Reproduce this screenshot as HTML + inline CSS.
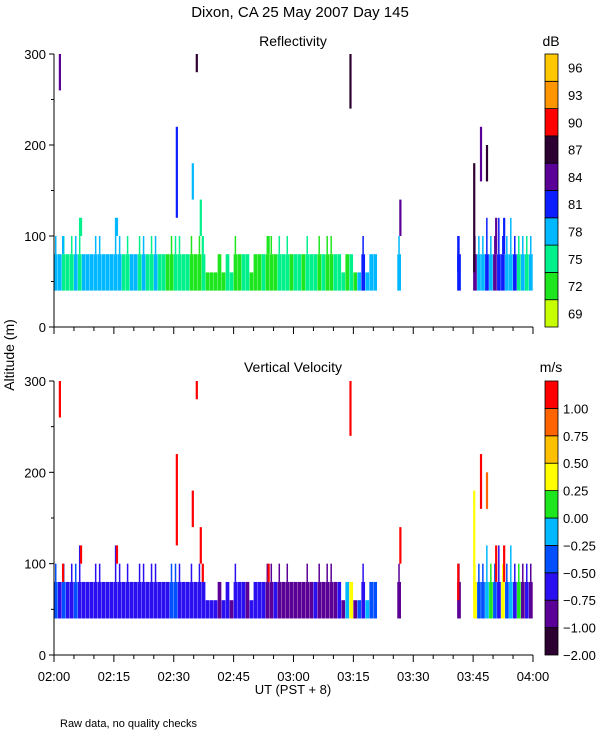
<!DOCTYPE html>
<html><head><meta charset="utf-8">
<style>
html,body{margin:0;padding:0;background:#fff;}
svg text{font-family:"Liberation Sans",sans-serif;fill:#000;}
</style></head>
<body>
<svg id="chart" width="600" height="750" xmlns="http://www.w3.org/2000/svg">
<text x="300" y="17" font-size="15" text-anchor="middle">Dixon, CA 25 May 2007  Day 145</text>
<text x="293" y="46" font-size="14" text-anchor="middle">Reflectivity</text>
<text x="551" y="46" font-size="14" text-anchor="middle">dB</text>
<text x="293" y="372" font-size="14" text-anchor="middle">Vertical Velocity</text>
<text x="551" y="372" font-size="14" text-anchor="middle">m/s</text>
<text x="0" y="0" font-size="14" text-anchor="middle" transform="translate(14,355) rotate(-90)">Altitude (m)</text>
<text x="293" y="694" font-size="13" text-anchor="middle">UT   (PST + 8)</text>
<text x="60" y="727" font-size="11">Raw data, no quality checks</text>
<g id="g"></g>
</svg>
<script>
// low-layer data, one bin per minute after 02:00
const minutes = Array.from({length:120},(_, i)=>i);
const lowTop = [100,80,100,80,100,100,120,80,80,80,100,100,80,80,80,120,100,80,100,80,
 80,100,100,80,100,100,80,80,80,100,100,100,80,80,100,80,100,80,60,60,
 60,80,60,80,60,100,80,80,80,60,80,80,80,100,100,80,100,80,100,80,
 80,80,80,100,80,80,100,80,100,100,80,80,60,80,80,60,60,100,60,80,
 80,0,0,0,0,0,100,0,0,0,0,0,0,0,0,0,0,0,0,0,
 0,100,0,0,0,100,100,100,120,100,100,120,100,100,120,100,100,100,100,100];
const lowRefl = [78,78,75,75,75,78,75,78,78,78,78,78,78,78,78,78,78,75,75,78,
 78,75,78,75,75,78,75,75,72,72,75,75,75,75,72,72,72,75,72,72,
 72,72,72,75,75,72,72,75,75,72,72,72,75,72,72,72,75,75,75,72,
 75,75,72,75,75,75,72,75,72,72,75,75,75,72,75,72,78,81,78,78,
 78,0,0,0,0,0,78,0,0,0,0,0,0,0,0,0,0,0,0,0,
 0,81,0,0,0,84,78,78,81,78,84,81,81,78,78,81,75,78,75,78];
const lowVel = [-0.4,-0.6,-0.4,-0.6,-0.6,-0.4,-0.6,-0.6,-0.6,-0.6,-0.6,-0.6,-0.6,-0.6,-0.6,-0.6,-0.6,-0.6,-0.6,-0.6,
 -0.6,-0.6,-0.6,-0.6,-0.6,-0.6,-0.6,-0.6,-0.6,-0.3,-0.3,-0.6,-0.6,-0.6,-0.6,-0.6,-0.6,-0.6,-0.6,-0.6,
 -0.6,-0.85,-0.6,-0.6,-0.85,-0.6,-0.6,-0.6,-0.85,-0.6,-0.6,-0.6,-0.6,-0.85,-0.85,-0.6,-0.85,-0.85,-0.85,-0.85,
 -0.85,-0.85,-0.85,-0.85,-0.85,-0.6,-0.85,-0.85,-0.85,-0.85,-0.85,-0.6,-0.9,-0.2,0.3,-0.9,-0.4,-0.6,-0.1,-0.3,
 -0.3,0,0,0,0,0,-0.9,0,0,0,0,0,0,0,0,0,0,0,0,0,
 0,-0.9,0,0,0,0.3,-0.4,-0.4,-0.2,0.1,-0.3,-0.6,0.3,-0.4,-0.2,-0.7,0.1,-0.9,-0.6,-0.85];
// isolated echoes
const segTime = [1.2,35.5,74,30.5,34.5,36.5,86.5,101,105,106.7,108.2,6.5,15.5,2,37,53.5,110.5,112.5];
const segBot  = [260,280,240,120,140,100,100,60,60,160,160,100,100,80,80,80,80,80];
const segTop  = [300,300,300,220,180,140,140,100,180,220,200,120,120,100,100,100,120,120];
const segRefl = [84,87,87,81,78,75,84,81,87,84,87,75,78,78,75,72,84,81];
const segVel  = [1.1,1.1,1.1,1.1,1.1,1.1,1.1,1.1,0.3,1.1,0.8,1.1,1.1,1.1,1.1,1.1,1.1,1.1];
const reflTicks = [69,72,75,78,81,84,87,90,93,96];
const velTicks = [-2.00,-1.00,-0.75,-0.50,-0.25,0.00,0.25,0.50,0.75,1.00];
const timeLabels = ["02:00","02:15","02:30","02:45","03:00","03:15","03:30","03:45","04:00"];
const altLabels = [0,100,200,300];

const reflColors=["#c8ff00","#1ee61e","#00f08c","#00b8ff","#0a1eff","#5a0096","#2d0032","#ff0000","#ff9600","#ffc800"];
const velColors=["#2d0032","#5a0096","#2a10f0","#0050ff","#00b8ff","#1ee61e","#ffff00","#ffc000","#ff6400","#ff0000"];
function reflColor(v){let i=Math.floor((v-69)/3);return reflColors[Math.max(0,Math.min(9,i))];}
function velColor(v){let i; if(v<-1)i=0; else i=1+Math.floor((v+1)/0.25); return velColors[Math.max(0,Math.min(9,i))];}

const X0=54,X1=533;
const xs=m=>X0+(X1-X0)*m/120;
const panels=[{top:54,bot:327,kind:"refl"},{top:381,bot:655,kind:"vel"}];
const g=document.getElementById('g');
const NS="http://www.w3.org/2000/svg";
function el(t,a){const e=document.createElementNS(NS,t);for(const k in a)e.setAttribute(k,a[k]);g.appendChild(e);return e;}

panels.forEach((p,pi)=>{
  const ys=a=>p.bot-(p.bot-p.top)*a/300;
  const pre=p.kind==="refl"?"refl":"vel";
  minutes.forEach(i=>{
    if(!lowTop[i])return;
    const c=p.kind==="refl"?reflColor(lowRefl[i]):velColor(lowVel[i]);
    const base=Math.min(lowTop[i],80);
    const r=el('rect',{x:xs(i),y:ys(base),width:3.7,height:ys(40)-ys(base),fill:c});
    
    
    if(lowTop[i]>80){
      const e=el('rect',{x:xs(i)+1,y:ys(lowTop[i]),width:1.5,height:ys(80)-ys(lowTop[i]),fill:c});
      
      
    }
  });
  segTime.forEach((t,i)=>{
    const c=p.kind==="refl"?reflColor(segRefl[i]):velColor(segVel[i]);
    const r=el('rect',{x:xs(t),y:ys(segTop[i]),width:2.2,height:ys(segBot[i])-ys(segTop[i]),fill:c});
    
    
  });
  const ax=el('path',{d:`M${X0} ${p.top}V${p.bot}H${X1}`,stroke:"#000",fill:"none","stroke-width":1});
  
  
  for(let a=0;a<=300;a+=50){
    el('line',{x1:X0-(a%100?3:5),x2:X0,y1:ys(a),y2:ys(a),stroke:"#000"});
  }
  altLabels.forEach(a=>{
    const t=el('text',{x:X0-8,y:ys(a)+5,"font-size":13,"text-anchor":"end"});t.textContent=a;
    
    
  });
  for(let m=0;m<=120;m+=5){
    el('line',{x1:xs(m),x2:xs(m),y1:p.bot,y2:p.bot+(m%15?4:7),stroke:"#000"});
  }
  const cb0=p.top,cb1=p.bot,h=(cb1-cb0)/10;
  const cols=p.kind==="refl"?reflColors:velColors;
  cols.forEach((c,i)=>{
    const r=el('rect',{x:545,y:cb1-(i+1)*h,width:13,height:h,fill:c,stroke:"#000","stroke-width":0.8});
    
    
  });
  const ticks=p.kind==="refl"?reflTicks:velTicks;
  ticks.forEach((v,i)=>{
    const y=p.kind==="refl"?cb1-(i+0.5)*h:cb1-i*h;
    const t=el('text',{x:p.kind==="refl"?568:563,y:y+5,"font-size":13});
    t.textContent=p.kind==="refl"?v:(v<0?"\u2212"+Math.abs(v).toFixed(2):v.toFixed(2));
    
    
  });
});
timeLabels.forEach((s,i)=>{
  const t=el('text',{x:xs(i*15),y:681,"font-size":13,"text-anchor":"middle"});t.textContent=s;
  
  
});
</script>
</body></html>
